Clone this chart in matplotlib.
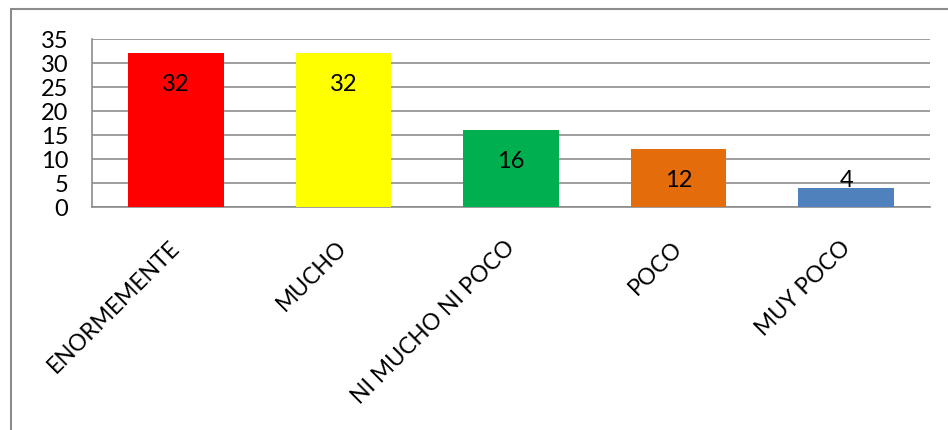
import matplotlib
matplotlib.use("Agg")
import matplotlib.pyplot as plt
import matplotlib.transforms as mtransforms
from matplotlib.patches import Rectangle

categories = ["ENORMEMENTE", "MUCHO", "NI MUCHO NI POCO", "POCO", "MUY POCO"]
values = [32, 32, 16, 12, 4]
colors = ["#FF0000", "#FFFF00", "#00B050", "#E46C0A", "#4F81BD"]
yticks = [0, 5, 10, 15, 20, 25, 30, 35]

plt.rcParams['font.family'] = ['Lato', 'DejaVu Sans']

fig = plt.figure(figsize=(9.48, 4.31), dpi=100)
ax = fig.add_axes([92/948, 1-208/431, (930-92)/948, 168/431])

x = list(range(len(categories)))
ax.bar(x, values, width=0.57, color=colors, zorder=3)
ax.set_xlim(-0.5, len(categories)-0.5)
ax.set_ylim(0, 35)
ax.set_yticks(yticks)
ax.yaxis.grid(True, color="#8c8c8c", linewidth=1.2, zorder=0)
ax.tick_params(axis='y', length=0, pad=17, labelsize=17)
ax.tick_params(axis='x', length=0, pad=21, labelsize=16.5)
ax.set_xticks(x)
ax.set_xticklabels(categories, rotation=45, ha='right', va='top', rotation_mode='anchor')
shift = mtransforms.ScaledTranslation(-5/72, 0, fig.dpi_scale_trans)
for lab in ax.get_xticklabels():
    lab.set_transform(lab.get_transform() + shift)
for s in ['top', 'right']:
    ax.spines[s].set_visible(False)
for s in ['left', 'bottom']:
    ax.spines[s].set_color("#8c8c8c")
    ax.spines[s].set_linewidth(1.2)

for xi, v in zip(x, values):
    if v > 8:
        ax.annotate(str(v), (xi, v), xytext=(0, -22), textcoords='offset points',
                    ha='center', va='center', fontsize=17, zorder=4)
    else:
        ax.annotate(str(v), (xi, v), xytext=(0, 6), textcoords='offset points',
                    ha='center', va='center', fontsize=17, zorder=4)

fig.patches.append(Rectangle((11/948, -0.1), 1.2, 1 - 10/431 + 0.1, transform=fig.transFigure,
                             fill=False, edgecolor="#8c8c8c", linewidth=1.5))

fig.savefig("out.png", dpi=100)
